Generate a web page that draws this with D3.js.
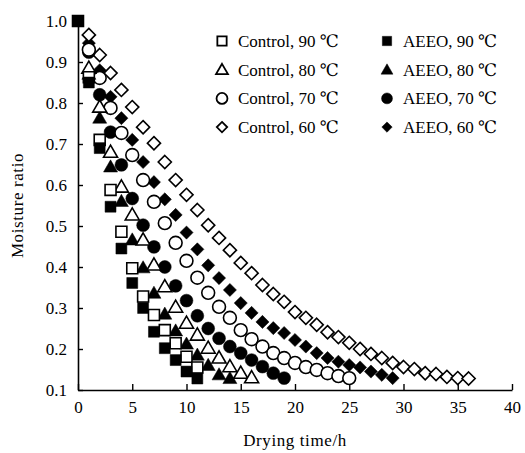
<!DOCTYPE html>
<html>
<head>
<meta charset="utf-8">
<script src="https://cdn.jsdelivr.net/npm/d3@7"></script>
<style>
  body { margin: 0; background: #fff; }
</style>
</head>
<body>
<div id="chart"></div>
<script>
// moisture ratio readings, one value per hour
// (only the 90 ℃ squares show the t = 0 point, the rest start at t = 1)
const control90 = [1.0, 0.863, 0.71, 0.588, 0.486, 0.397, 0.328, 0.283, 0.246, 0.214, 0.181, 0.155];
const control80 = [0.885, 0.79, 0.68, 0.595, 0.527, 0.466, 0.405, 0.352, 0.302, 0.263, 0.234, 0.202, 0.178, 0.157, 0.141, 0.13];
const control70 = [0.93, 0.861, 0.788, 0.727, 0.673, 0.612, 0.559, 0.507, 0.459, 0.415, 0.374, 0.337, 0.303, 0.276, 0.246, 0.224, 0.206, 0.19, 0.178, 0.166, 0.156, 0.149, 0.141, 0.134, 0.129];
const control60 = [0.966, 0.917, 0.873, 0.832, 0.79, 0.741, 0.702, 0.656, 0.612, 0.576, 0.539, 0.502, 0.471, 0.441, 0.41, 0.385, 0.356, 0.334, 0.315, 0.29, 0.276, 0.259, 0.241, 0.229, 0.215, 0.2, 0.188, 0.178, 0.166, 0.156, 0.151, 0.141, 0.139, 0.132, 0.129, 0.128];
const aeeo90 = [1.0, 0.85, 0.69, 0.547, 0.445, 0.361, 0.3, 0.242, 0.202, 0.173, 0.145, 0.128];
const aeeo80 = [0.87, 0.763, 0.644, 0.56, 0.466, 0.398, 0.336, 0.285, 0.244, 0.212, 0.185, 0.16, 0.137, 0.128];
const aeeo70 = [0.924, 0.82, 0.729, 0.649, 0.567, 0.502, 0.449, 0.4, 0.354, 0.318, 0.281, 0.25, 0.226, 0.206, 0.19, 0.173, 0.157, 0.141, 0.129];
const aeeo60 = [0.946, 0.88, 0.815, 0.763, 0.71, 0.656, 0.607, 0.565, 0.527, 0.484, 0.443, 0.404, 0.373, 0.344, 0.312, 0.288, 0.266, 0.251, 0.239, 0.222, 0.206, 0.19, 0.178, 0.169, 0.161, 0.155, 0.145, 0.137, 0.129];

const xTicks = [0, 5, 10, 15, 20, 25, 30, 35, 40];
const yTicks = [0.1, 0.2, 0.3, 0.4, 0.5, 0.6, 0.7, 0.8, 0.9, 1.0];

const legendNames = ["Control, 90 \u2103", "Control, 80 \u2103", "Control, 70 \u2103", "Control, 60 \u2103",
                     "AEEO, 90 \u2103", "AEEO, 80 \u2103", "AEEO, 70 \u2103", "AEEO, 60 \u2103"];

const series = [
  { name: legendNames[0], values: control90, start: 0, shape: "square", filled: false },
  { name: legendNames[1], values: control80, start: 1, shape: "triangle", filled: false },
  { name: legendNames[2], values: control70, start: 1, shape: "circle", filled: false },
  { name: legendNames[3], values: control60, start: 1, shape: "diamond", filled: false },
  { name: legendNames[4], values: aeeo90, start: 0, shape: "square", filled: true },
  { name: legendNames[5], values: aeeo80, start: 1, shape: "triangle", filled: true },
  { name: legendNames[6], values: aeeo70, start: 1, shape: "circle", filled: true },
  { name: legendNames[7], values: aeeo60, start: 1, shape: "diamond", filled: true }
];

// draw order so overlaps look like the original
const drawOrder = [7, 3, 6, 2, 5, 1, 0, 4];

const W = 525, H = 453;
const margin = { top: 21, right: 13, bottom: 63, left: 78 };
const serif = "'Liberation Serif', 'Times New Roman', Times, 'DejaVu Serif', 'Noto Serif', serif";

const svg = d3.select("#chart").append("svg")
    .attr("width", W)
    .attr("height", H)
    .attr("font-family", serif);

const x = d3.scaleLinear().domain([0, 40]).range([margin.left, W - margin.right]);
const y = d3.scaleLinear().domain([0.1, 1.0]).range([H - margin.bottom, margin.top]);

const symbolTypes = {
  square: d3.symbolSquare,
  triangle: d3.symbolTriangle,
  circle: d3.symbolCircle,
  diamond: d3.symbolDiamond2 || d3.symbolDiamond
};
// area per shape so the markers come out ~12-13px across
const symbolSize = { square: 120, triangle: 85, circle: 130, diamond: 110 };

function marker(shape, scale) {
  return d3.symbol().type(symbolTypes[shape]).size(symbolSize[shape] * scale)();
}

const plot = svg.append("g");

drawOrder.forEach(i => {
  const s = series[i];
  plot.append("g").selectAll("path")
    .data(s.values)
    .enter().append("path")
    .attr("d", marker(s.shape, 1))
    .attr("transform", (d, t) => {
      const dy = s.shape === "triangle" ? 1 : 0;
      return `translate(${x(t + s.start)},${y(d) + dy})`;
    })
    .attr("fill", s.filled ? "#000" : "#fff")
    .attr("stroke", "#000")
    .attr("stroke-width", s.filled ? 0.5 : 1.6);
});

// axes
const xAxis = d3.axisBottom(x).tickValues(xTicks).tickSize(-6).tickPadding(11).tickSizeOuter(0);
const gx = svg.append("g")
    .attr("transform", `translate(0,${H - margin.bottom})`)
    .call(xAxis);

const yAxis = d3.axisLeft(y).tickValues(yTicks).tickFormat(d3.format(".1f")).tickSize(-5).tickPadding(11).tickSizeOuter(0);
const gy = svg.append("g")
    .attr("transform", `translate(${margin.left},0)`)
    .call(yAxis);

[gx, gy].forEach(g => {
  g.attr("font-family", serif).attr("font-size", 17);
  g.select(".domain").attr("stroke", "#000").attr("stroke-width", 1.6);
  g.selectAll(".tick line").attr("stroke", "#000").attr("stroke-width", 1.4);
  g.selectAll(".tick text").attr("fill", "#000");
});
gy.selectAll(".tick text").attr("dy", "0.35em");

svg.append("text")
    .attr("x", (x(0) + x(40)) / 2)
    .attr("y", 446)
    .attr("text-anchor", "middle")
    .attr("font-size", 17)
    .attr("letter-spacing", 0.6)
    .text("Drying time/h");

svg.append("text")
    .attr("transform", `translate(23,${(y(0.1) + y(1.0)) / 2}) rotate(-90)`)
    .attr("text-anchor", "middle")
    .attr("font-size", 17)
    .attr("letter-spacing", 0.6)
    .text("Moisture ratio");

// legend: two columns of four
const legend = svg.append("g");
series.forEach((s, i) => {
  const col = Math.floor(i / 4), row = i % 4;
  const lx = col === 0 ? 222 : 387;
  const ly = 41 + row * 28.7;
  legend.append("path")
    .attr("d", marker(s.shape, s.shape === "diamond" ? 0.62 : 0.72))
    .attr("transform", `translate(${lx},${ly + (s.shape === "triangle" ? 1 : 0)})`)
    .attr("fill", s.filled ? "#000" : "#fff")
    .attr("stroke", "#000")
    .attr("stroke-width", s.filled ? 0.5 : 1.8);
  legend.append("text")
    .attr("x", lx + 16)
    .attr("y", ly + 6)
    .attr("font-size", 17)
    .text(s.name);
});
</script>
</body>
</html>
